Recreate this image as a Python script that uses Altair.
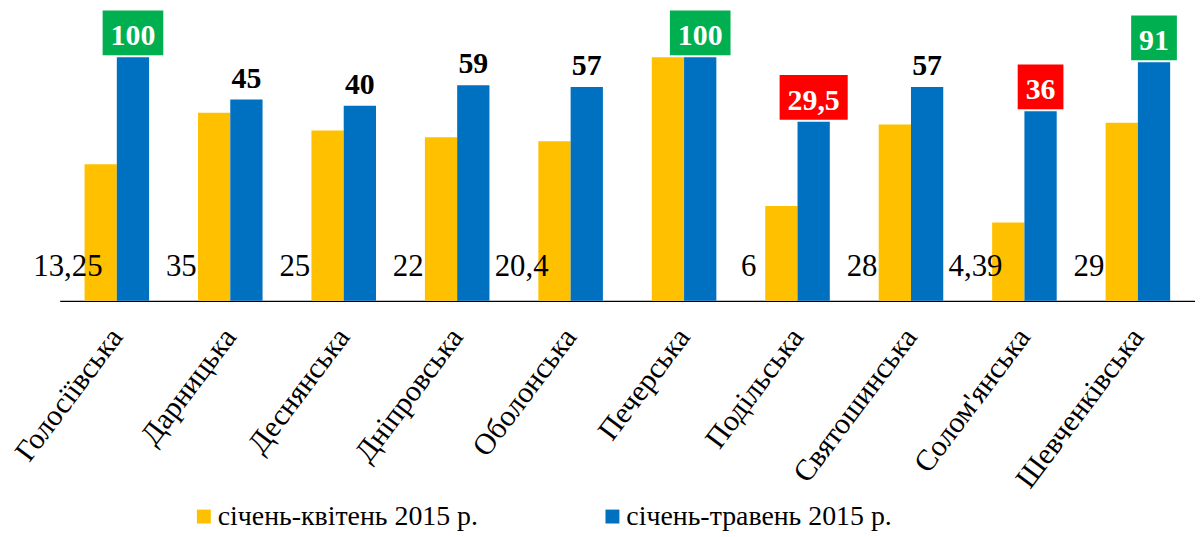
import altair as alt
import pandas as pd

districts = ["Голосіївська", "Дарницька", "Деснянська", "Дніпровська", "Оболонська",
             "Печерська", "Подільська", "Святошинська", "Солом'янська", "Шевченківська"]
series = ["січень-квітень 2015 р.", "січень-травень 2015 р."]
apr_values = [13.25, 35, 25, 22, 20.4, 100, 6, 28, 4.39, 29]
apr_labels = ["13,25", "35", "25", "22", "20,4", "", "6", "28", "4,39", "29"]
may_values = [100, 45, 40, 59, 57, 100, 29.5, 57, 36, 91]
may_labels = ["100", "45", "40", "59", "57", "100", "29,5", "57", "36", "91"]

FONT = "Liberation Serif"
YELLOW, BLUE, GREEN, RED = "#FFC000", "#0070C0", "#00B050", "#FF0000"


def highlight(v):
    if v >= 90:
        return "green"
    if v < 40:
        return "red"
    return ""


def box_width(label):
    # text width estimate for 30px bold serif digits plus padding
    w = sum(7.5 if ch == "," else 15 for ch in label)
    return w + 16


rows = []
for d, v, l in zip(districts, apr_values, apr_labels):
    rows.append({"district": d, "series": series[0], "value": v, "label": l, "hl": "", "boxw": 0})
for d, v, l in zip(districts, may_values, may_labels):
    rows.append({"district": d, "series": series[1], "value": v, "label": l,
                 "hl": highlight(v), "boxw": box_width(l)})
df = pd.DataFrame(rows)

x_enc = alt.X("district:N", sort=districts, title=None,
              scale=alt.Scale(paddingInner=0.431, paddingOuter=0.219),
              axis=alt.Axis(labelFont=FONT, labelFontSize=30, labelAngle=-53,
                            labelAlign="right", labelBaseline="middle", labelPadding=31,
                            ticks=False, domainColor="black", domainWidth=1.2,
                            labelColor="black", labelLimit=400))
xo_enc = alt.XOffset("series:N", sort=series,
                     scale=alt.Scale(domain=series, paddingInner=0, paddingOuter=0))
y_scale = alt.Scale(type="log", domain=[1, 100], nice=False)

base = alt.Chart(df)

bars = base.mark_bar().encode(
    x=x_enc,
    xOffset=xo_enc,
    y=alt.Y("value:Q", scale=y_scale, axis=None, stack=None),
    y2=alt.datum(1),
    color=alt.Color("series:N", sort=series,
                    scale=alt.Scale(domain=series, range=[YELLOW, BLUE]),
                    legend=alt.Legend(orient="none", legendX=131, legendY=448,
                                      direction="horizontal", title=None,
                                      symbolType="square", symbolSize=196,
                                      symbolStrokeWidth=0, labelFont=FONT,
                                      labelFontSize=28, labelOffset=0,
                                      columnPadding=121, labelLimit=400,
                                      padding=0, labelColor="black")),
)

yellow_labels = base.transform_filter(
    (alt.datum.series == series[0]) & (alt.datum.label != "")
).mark_text(font=FONT, fontSize=31, dx=-33, dy=-25, baseline="alphabetic",
            align="center", color="black").encode(
    x=alt.X("district:N", sort=districts),
    xOffset=xo_enc,
    y=alt.datum(1),
    text="label:N",
)

boxes = base.transform_filter(
    (alt.datum.series == series[1]) & (alt.datum.hl != "")
).mark_bar(yOffset=-47, y2Offset=-2).encode(
    x=alt.X("district:N", sort=districts),
    xOffset=xo_enc,
    y=alt.Y("value:Q"),
    y2=alt.Y2("value"),
    size=alt.Size("boxw:Q", scale=None, legend=None),
    color=alt.condition(alt.datum.hl == "green", alt.value(GREEN), alt.value(RED)),
)

blue_labels = base.transform_filter(
    alt.datum.series == series[1]
).mark_text(font=FONT, fontSize=30, fontWeight="bold", dy=-12,
            baseline="alphabetic", align="center").encode(
    x=alt.X("district:N", sort=districts),
    xOffset=xo_enc,
    y=alt.Y("value:Q"),
    text="label:N",
    color=alt.condition(alt.datum.hl != "", alt.value("white"), alt.value("black")),
)

chart = alt.layer(bars, yellow_labels, boxes, blue_labels).properties(
    width=1142, height=245,
    autosize=alt.AutoSizeParams(type="none"),
    padding={"left": 52, "top": 48, "right": 0, "bottom": 232},
).configure_view(stroke=None)

chart.save("out.html", embed_options={"renderer": "svg", "actions": False})
